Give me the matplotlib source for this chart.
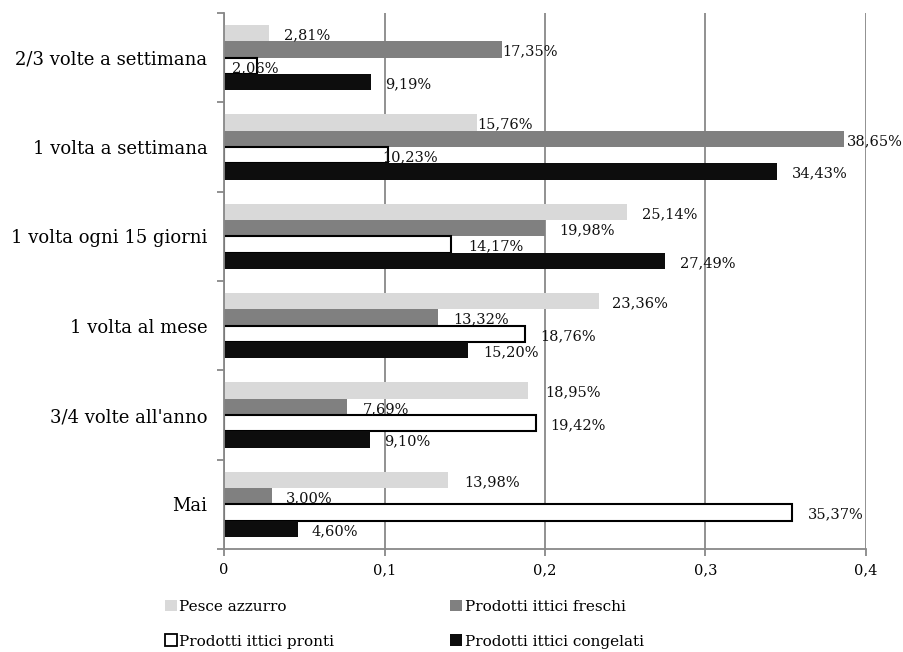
import matplotlib
matplotlib.use("Agg")
import matplotlib.pyplot as plt
from matplotlib.patches import Patch
from matplotlib.ticker import FixedLocator, FuncFormatter

# Frequenza di consumo (categorie, dall'alto verso il basso)
categories = [
    "2/3 volte a settimana",
    "1 volta a settimana",
    "1 volta ogni 15 giorni",
    "1 volta al mese",
    "3/4 volte all'anno",
    "Mai",
]
series_names = [
    "Pesce azzurro",
    "Prodotti ittici freschi",
    "Prodotti ittici pronti",
    "Prodotti ittici congelati",
]
pesce_azzurro = [0.0281, 0.1576, 0.2514, 0.2336, 0.1895, 0.1398]
ittici_freschi = [0.1735, 0.3865, 0.1998, 0.1332, 0.0769, 0.0300]
ittici_pronti = [0.0206, 0.1023, 0.1417, 0.1876, 0.1942, 0.3537]
ittici_congelati = [0.0919, 0.3443, 0.2749, 0.1520, 0.0910, 0.0460]
x_ticks = [0, 0.1, 0.2, 0.3, 0.4]

series_values = [pesce_azzurro, ittici_freschi, ittici_pronti, ittici_congelati]
face_colors = ["#d9d9d9", "#808080", "#ffffff", "#0d0d0d"]
edge_colors = ["#d9d9d9", "#808080", "#000000", "#0d0d0d"]
edge_widths = [0.0, 0.0, 1.5, 0.0]

# horizontal nudges (pixels) of a few value labels, per series/category
label_dx = [
    [15, 0, 15, 13, 17, 16],
    [0, 3, 15, 15, 15, 14],
    [-25, -6, 17, 15, 15, 16],
    [14, 15, 15, 15, 14, 14],
]

FONT = "DejaVu Serif"
plt.rcParams["font.family"] = FONT
plt.rcParams["font.size"] = 10.5

fig = plt.figure(figsize=(9.04, 6.52), dpi=100)
ax = fig.add_axes([224 / 904, 1 - 549 / 652, (866 - 224) / 904, (549 - 13) / 652])

grid_col = "#888888"
bar_h = 0.183
offsets = [-1.5, -0.5, 0.5, 1.5]
ypos = list(range(len(categories)))

for s, vals in enumerate(series_values):
    ys = [y + offsets[s] * bar_h for y in ypos]
    ax.barh(ys, vals, height=bar_h, color=face_colors[s], edgecolor=edge_colors[s],
            linewidth=edge_widths[s], zorder=3, label=series_names[s])
    for i, (y, v) in enumerate(zip(ys, vals)):
        txt = f"{v * 100:.2f}%".replace(".", ",")
        ax.annotate(txt, xy=(v, y), xytext=(label_dx[s][i], -2), textcoords="offset pixels",
                    ha="left", va="center", fontsize=10.5, color="#111111", zorder=4,
                    annotation_clip=False)

ax.set_xlim(0, 0.4)
ax.set_ylim(len(categories) - 0.5, -0.5)

ax.xaxis.set_major_locator(FixedLocator(x_ticks))
ax.xaxis.set_major_formatter(FuncFormatter(lambda v, p: ("%g" % v).replace(".", ",")))
ax.grid(axis="x", color=grid_col, linewidth=1.3, zorder=0)
ax.tick_params(axis="x", length=5, width=1.3, color=grid_col, pad=5, labelsize=10.5)

ax.set_yticks(ypos)
ax.set_yticklabels(categories, fontsize=13)
ax.tick_params(axis="y", which="major", length=0, pad=12)
ax.set_yticks([y - 0.5 for y in range(len(categories) + 1)], minor=True)
ax.tick_params(axis="y", which="minor", length=5, width=1.3, color=grid_col)

for side in ["top", "right"]:
    ax.spines[side].set_visible(False)
for side in ["left", "bottom"]:
    ax.spines[side].set_color(grid_col)
    ax.spines[side].set_linewidth(1.3)
    ax.spines[side].set_zorder(5)

handles = [Patch(facecolor=face_colors[s], edgecolor=edge_colors[s] if s == 2 else face_colors[s],
                 linewidth=1.3 if s == 2 else 0) for s in range(4)]
order = [0, 2, 1, 3]
fig.legend([handles[i] for i in order], [series_names[i] for i in order],
           ncol=2, loc="upper left", bbox_to_anchor=(157 / 904, 1 - 592 / 652),
           frameon=False, fontsize=11, handlelength=0.8, handleheight=0.8,
           handletextpad=0.15, columnspacing=7.6, labelspacing=1.35, borderpad=0)

fig.savefig("out.png", dpi=100, facecolor="white")
